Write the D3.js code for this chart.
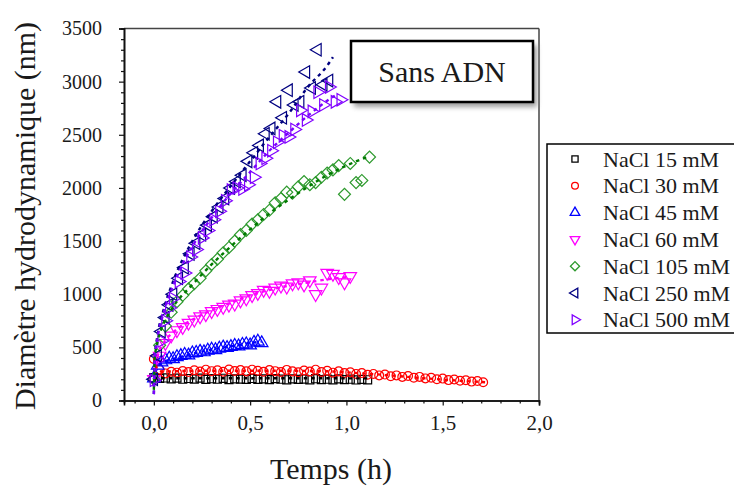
<!DOCTYPE html>
<html><head><meta charset="utf-8">
<script src="https://cdn.jsdelivr.net/npm/d3@7/dist/d3.min.js"></script>
<style>
body{margin:0;background:#fff}
svg{display:block}
text{font-family:"Liberation Serif","Times New Roman",serif;fill:#1a1a1a}
</style>
</head><body>
<svg id="chart" width="734" height="487"></svg>
<script>
// ---------------- DATA ----------------
const seriesNames = ["NaCl 15 mM","NaCl 30 mM","NaCl 45 mM","NaCl 60 mM","NaCl 105 mM","NaCl 250 mM","NaCl 500 mM"];
const xTicks = [0, 0.5, 1.0, 1.5, 2.0];
const xTickLabels = ["0,0","0,5","1,0","1,5","2,0"];
const xMinorTicks = [-0.1,0.1,0.2,0.3,0.4,0.6,0.7,0.8,0.9,1.1,1.2,1.3,1.4,1.6,1.7,1.8,1.9];
const yTicks = [0,500,1000,1500,2000,2500,3000,3500];
const yTickLabels = ["0","500","1000","1500","2000","2500","3000","3500"];
const yMinorTicks = [100,200,300,400,600,700,800,900,1100,1200,1300,1400,1600,1700,1800,1900,2100,2200,2300,2400,2600,2700,2800,2900,3100,3200,3300,3400];
const xTitle = "Temps (h)";
const yTitle = "Diamètre hydrodynamique (nm)";
const boxLabel = "Sans ADN";

const t15 = [0,0.03,0.06,0.09,0.12,0.15,0.18,0.21,0.24,0.27,0.30,0.33,0.36,0.39,0.42,0.45,0.48,0.51,0.54,0.57,0.60,0.63,0.66,0.69,0.72,0.75,0.78,0.81,0.84,0.87,0.90,0.93,0.96,0.99,1.02,1.05,1.08,1.11];
const v15 = [215,208,212,204,210,200,207,202,211,198,205,200,209,196,204,201,198,207,199,203,196,206,200,195,204,198,202,195,205,197,200,194,203,197,200,193,199,195];

const t30 = [0,0.03,0.06,0.09,0.12,0.15,0.18,0.21,0.24,0.27,0.30,0.33,0.36,0.39,0.42,0.45,0.48,0.51,0.54,0.57,0.60,0.63,0.66,0.69,0.72,0.75,0.78,0.81,0.84,0.87,0.90,0.93,0.96,0.99,1.02,1.05,1.08,1.11,1.14,1.17,1.20,1.23,1.26,1.29,1.32,1.35,1.38,1.41,1.44,1.47,1.50,1.53,1.56,1.59,1.62,1.65,1.68,1.71];
const v30 = [390,290,255,270,262,278,268,285,272,290,276,284,270,292,278,286,274,290,280,270,286,276,268,288,274,266,282,272,290,268,280,262,274,258,266,250,258,242,250,236,244,228,236,222,230,214,222,208,214,200,206,192,198,186,190,178,184,172];

const t45 = [0,0.02,0.04,0.06,0.08,0.10,0.12,0.14,0.16,0.18,0.20,0.22,0.24,0.26,0.28,0.30,0.32,0.34,0.36,0.38,0.40,0.42,0.44,0.46,0.48,0.50,0.52,0.54,0.56];
const v45 = [210,330,360,380,395,390,410,420,430,425,445,450,460,455,470,480,475,490,500,495,505,515,510,525,530,520,545,555,540];

const t60 = [0,0.03,0.06,0.09,0.12,0.15,0.18,0.21,0.24,0.27,0.30,0.33,0.36,0.39,0.42,0.45,0.48,0.51,0.54,0.57,0.60,0.63,0.66,0.69,0.72,0.75,0.78,0.81,0.84,0.87,0.90,0.93,0.96,0.99,1.02];
const v60 = [200,420,540,610,660,690,730,760,790,810,840,860,880,900,910,940,960,990,1010,1040,1030,1060,1080,1070,1100,1110,1090,1130,1000,1060,1200,1190,1160,1110,1170];

const t105 = [0,0.03,0.06,0.09,0.12,0.15,0.18,0.21,0.24,0.27,0.30,0.33,0.36,0.39,0.42,0.45,0.48,0.51,0.54,0.57,0.60,0.63,0.66,0.69,0.72,0.75,0.78,0.81,0.84,0.87,0.90,0.93,0.96,0.99,1.02,1.05,1.08,1.12];
const v105 = [200,520,700,830,930,990,1050,1100,1150,1220,1280,1330,1390,1440,1500,1560,1600,1660,1700,1750,1790,1860,1900,1960,1950,2010,2060,2030,2050,2100,2140,2170,2210,1940,2230,2050,2070,2290];

const t250 = [0,0.02,0.04,0.06,0.08,0.10,0.13,0.16,0.19,0.22,0.25,0.28,0.31,0.34,0.37,0.40,0.43,0.46,0.49,0.52,0.55,0.58,0.61,0.64,0.67,0.70,0.73,0.76,0.79,0.82,0.85,0.88,0.91];
const v250 = [200,420,650,780,900,1000,1150,1250,1380,1480,1560,1650,1730,1820,1900,2000,2060,2120,2250,2330,2400,2510,2560,2810,2660,2920,2780,2810,3090,2940,3300,2970,3010];

const t500 = [0,0.02,0.04,0.06,0.08,0.10,0.13,0.16,0.19,0.22,0.25,0.28,0.31,0.34,0.37,0.40,0.43,0.46,0.49,0.52,0.55,0.58,0.61,0.64,0.67,0.70,0.73,0.76,0.79,0.82,0.85,0.88,0.91,0.94,0.97];
const v500 = [190,380,560,750,870,960,1120,1200,1350,1420,1530,1600,1700,1780,1880,1980,2000,1990,2030,2100,2230,2280,2350,2430,2490,2480,2550,2730,2640,2720,2900,2780,2950,2810,2830];

// fitted curves (dashed)
const fitT15 = [0,0.02,0.5,1.12];           const fitV15 = [200,210,210,208];
const fitT30 = [0,0.02,0.05,0.1,0.3,0.6,0.9,1.0,1.2,1.4,1.6,1.72]; const fitV30 = [400,290,270,275,280,280,275,265,240,210,185,172];
const fitT45 = [0,0.02,0.05,0.1,0.2,0.3,0.4,0.5,0.56]; const fitV45 = [200,320,360,390,440,480,510,540,555];
const fitT60 = [0,0.02,0.05,0.1,0.2,0.3,0.4,0.5,0.6,0.7,0.8,0.9,1.0]; const fitV60 = [200,420,540,640,760,850,920,990,1040,1080,1110,1140,1160];
const fitT105 = [0,0.005,0.02,0.05,0.1,0.2,0.3,0.4,0.5,0.6,0.7,0.8,0.9,1.0,1.12]; const fitV105 = [100,400,560,720,880,1090,1280,1450,1610,1760,1890,2010,2120,2210,2300];
const fitT250 = [0,0.005,0.02,0.05,0.1,0.2,0.3,0.4,0.5,0.6,0.7,0.8,0.9,0.93]; const fitV250 = [60,400,620,850,1120,1500,1780,2020,2250,2480,2700,2950,3150,3230];
const fitT500 = [0,0.005,0.02,0.05,0.1,0.2,0.3,0.4,0.5,0.6,0.7,0.8,0.9,0.95]; const fitV500 = [60,380,600,820,1080,1450,1720,1950,2150,2350,2520,2680,2820,2880];

// ---------------- STYLE ----------------
const colors = ["#000000","#ff0000","#0000ff","#ff00ff","#2e9a2e","#000080","#8000ff"];
const fitColors = ["#000000","#ff0000","#0000ff","#ff00ff","#007a00","#000080","#7a00ff"];
const shapes = ["square","circle","up","down","diamond","left","right"];

const allT = [t15,t30,t45,t60,t105,t250,t500];
const allV = [v15,v30,v45,v60,v105,v250,v500];
const allFitT = [fitT15,fitT30,fitT45,fitT60,fitT105,fitT250,fitT500];
const allFitV = [fitV15,fitV30,fitV45,fitV60,fitV105,fitV250,fitV500];

// ---------------- DRAW ----------------
const svg = d3.select("#chart");
svg.append("rect").attr("width",734).attr("height",487).attr("fill","#fff");

const L = 124, R = 539, T = 28.5, B = 400.5;
const x = d3.scaleLinear().domain([-0.155, 2.0]).range([L, R]);
const y = d3.scaleLinear().domain([0, 3500]).range([B, T]);

function symbolPath(shape, s) {
  switch(shape) {
    case "square": return {d: d3.symbol(d3.symbolSquare, s*0.95)(), rot:0};
    case "circle": return {d: d3.symbol(d3.symbolCircle, s*0.9)(), rot:0};
    case "diamond": return {d: d3.symbol(d3.symbolSquare, s*1.05)(), rot:45};
    case "up": return {d: d3.symbol(d3.symbolTriangle, s)(), rot:0};
    case "down": return {d: d3.symbol(d3.symbolTriangle, s)(), rot:180};
    case "left": return {d: d3.symbol(d3.symbolTriangle, s)(), rot:-90};
    case "right": return {d: d3.symbol(d3.symbolTriangle, s)(), rot:90};
  }
}

// frame top and right
svg.append("line").attr("x1",L).attr("x2",R).attr("y1",T).attr("y2",T).attr("stroke","#444").attr("stroke-width",1.5);
svg.append("line").attr("x1",R).attr("x2",R).attr("y1",T).attr("y2",B).attr("stroke","#444").attr("stroke-width",1.5);

// markers
const markG = svg.append("g");
allT.forEach((ts, i) => {
  const sp = symbolPath(shapes[i], 68);
  markG.append("g").selectAll("path").data(ts.map((t,j)=>[t, allV[i][j]])).join("path")
    .attr("d", sp.d)
    .attr("transform", d => `translate(${x(d[0])},${y(d[1])}) rotate(${sp.rot})`)
    .attr("fill","none").attr("stroke",colors[i]).attr("stroke-width",1.2);
});

// fits
const line = d3.line().x(d=>x(d[0])).y(d=>y(d[1])).curve(d3.curveMonotoneX);
allFitT.forEach((ts, i) => {
  svg.append("path").datum(ts.map((t,j)=>[t, allFitV[i][j]]))
    .attr("d", line).attr("fill","none").attr("stroke",fitColors[i])
    .attr("stroke-width",2.4).attr("stroke-dasharray","3.5,4");
});

// axes
const xAxis = svg.append("g").attr("transform",`translate(0,${B})`)
  .call(d3.axisBottom(x).tickValues(xTicks).tickSize(5).tickFormat((d,i)=>xTickLabels[i]));
svg.append("g").attr("transform",`translate(0,${B})`)
  .call(d3.axisBottom(x).tickValues(xMinorTicks).tickSize(3).tickFormat(""));
const yAxis = svg.append("g").attr("transform",`translate(${L},0)`)
  .call(d3.axisLeft(y).tickValues(yTicks).tickSize(5).tickFormat((d,i)=>yTickLabels[i]));
svg.append("g").attr("transform",`translate(${L},0)`)
  .call(d3.axisLeft(y).tickValues(yMinorTicks).tickSize(3).tickFormat(""));
svg.selectAll(".domain").attr("stroke","#111").attr("stroke-width",1.6);
svg.selectAll(".tick line").attr("stroke","#111").attr("stroke-width",1.2);
xAxis.selectAll(".tick text").attr("font-size",21).attr("y",15);
yAxis.selectAll(".tick text").attr("font-size",20).attr("x",-22);

// axis titles
svg.append("text").attr("x",331).attr("y",479).attr("text-anchor","middle").attr("font-size",30).text(xTitle);
svg.append("text").attr("transform","translate(35,216) rotate(-90)").attr("text-anchor","middle").attr("font-size",30).text(yTitle);

// "Sans ADN" box
const defs = svg.append("defs");
const f = defs.append("filter").attr("id","sh").attr("x","-20%").attr("y","-20%").attr("width","140%").attr("height","150%");
f.append("feGaussianBlur").attr("stdDeviation",2.5);
svg.append("rect").attr("x",354).attr("y",45).attr("width",183).attr("height",62).attr("fill","#888").attr("filter","url(#sh)").attr("opacity",0.8);
svg.append("rect").attr("x",351).attr("y",41).attr("width",182).attr("height",61).attr("fill","#fff").attr("stroke","#000").attr("stroke-width",2.5);
svg.append("text").attr("x",442).attr("y",82).attr("text-anchor","middle").attr("font-size",30).text(boxLabel);

// legend
const lg = svg.append("g");
lg.append("rect").attr("x",547).attr("y",144).attr("width",200).attr("height",189).attr("fill","#fff").attr("stroke","#000").attr("stroke-width",1.5);
seriesNames.forEach((name, i) => {
  const cy = 159 + i*26.8;
  const sp = symbolPath(shapes[i], 40);
  lg.append("path").attr("d", sp.d).attr("transform",`translate(575,${cy}) rotate(${sp.rot})`)
    .attr("fill","none").attr("stroke",colors[i]).attr("stroke-width",1.3);
  lg.append("text").attr("x",603).attr("y",cy+7.5).attr("font-size",22).text(name);
});
</script>
</body></html>
